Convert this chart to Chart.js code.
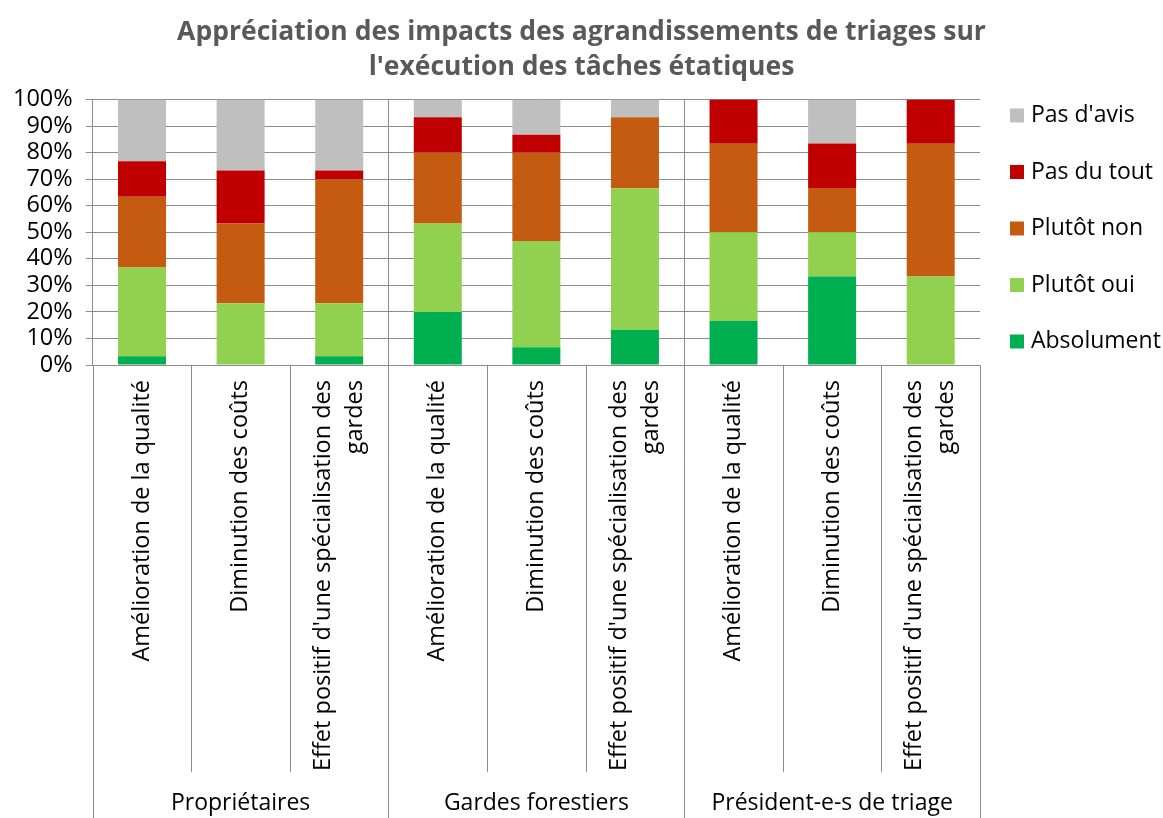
<!DOCTYPE html>
<html>
<head>
<meta charset="utf-8">
<script src="https://cdn.jsdelivr.net/npm/chart.js@4.4.1/dist/chart.umd.min.js"></script>
<style>
  html, body { margin: 0; padding: 0; background: #fff; }
  #wrap { width: 1163px; height: 818px; }
</style>
</head>
<body>
<div id="wrap"><canvas id="myChart" width="1163" height="818"></canvas></div>
<script>
// groupes et critères (axe x à deux niveaux)
const groupes = ['Propriétaires', 'Gardes forestiers', 'Président-e-s de triage'];
const criteres = ['Amélioration de la qualité', 'Diminution des coûts', ["Effet positif d'une spécialisation des", 'gardes']];

// valeurs en %, une par barre (3 critères x 3 groupes)
const absolument = [3.3, 0, 3.3, 20, 6.7, 13.3, 16.7, 33.3, 0];
const plutotOui = [33.4, 23.3, 20, 33.3, 40, 53.3, 33.3, 16.7, 33.3];
const plutotNon = [26.7, 30, 46.7, 26.7, 33.3, 26.7, 33.3, 16.7, 50];
const pasDuTout = [13.3, 20, 3.3, 13.3, 6.7, 0, 16.7, 16.7, 16.7];
const pasDavis = [23.3, 26.7, 26.7, 6.7, 13.3, 6.7, 0, 16.6, 0];

const yTicks = [0, 10, 20, 30, 40, 50, 60, 70, 80, 90, 100];

const labels = [];
groupes.forEach(g => criteres.forEach(c => labels.push(c)));

const police = "'Open Sans', sans-serif";
const gris = '#8c8c8c';

// axe x à deux niveaux + légende à droite
const decor = {
  id: 'decor',
  afterDraw(chart) {
    const ctx = chart.ctx;
    const x = chart.scales.x;
    const area = chart.chartArea;
    const demi = (x.getPixelForValue(1) - x.getPixelForValue(0)) / 2;
    const basLabels = area.bottom + 407;

    ctx.save();
    ctx.strokeStyle = gris;
    ctx.lineWidth = 1;
    for (let i = 0; i <= labels.length; i++) {
      const px = Math.round(x.getPixelForValue(i) - demi) + 0.5;
      const finGroupe = i % criteres.length === 0;
      const haut = (finGroupe && i > 0 && i < labels.length) ? area.top : area.bottom;
      ctx.beginPath();
      ctx.moveTo(px, haut);
      ctx.lineTo(px, finGroupe ? chart.height : basLabels);
      ctx.stroke();
    }

    // étiquettes des critères, verticales
    ctx.fillStyle = '#000';
    ctx.font = '23.5px ' + police;
    ctx.textAlign = 'right';
    ctx.textBaseline = 'middle';
    labels.forEach((lab, i) => {
      const lignes = Array.isArray(lab) ? lab : [lab];
      const cx = x.getPixelForValue(i);
      lignes.forEach((l, j) => {
        const dx = (j - (lignes.length - 1) / 2) * 32;
        ctx.save();
        ctx.translate(cx + dx, area.bottom + 15);
        ctx.rotate(-Math.PI / 2);
        ctx.fillText(l, 0, 0);
        ctx.restore();
      });
    });

    // étiquettes des groupes
    ctx.font = '23px ' + police;
    ctx.textAlign = 'center';
    groupes.forEach((g, k) => {
      const cx = x.getPixelForValue(k * criteres.length + 1);
      ctx.fillText(g, cx, area.bottom + 438);
    });

    // légende (ordre inversé)
    const items = chart.data.datasets.slice().reverse();
    ctx.textAlign = 'left';
    items.forEach((ds, i) => {
      const cy = area.top + 16 + i * 56.5;
      ctx.fillStyle = ds.backgroundColor;
      ctx.fillRect(area.right + 30, cy - 7, 14, 14);
      ctx.fillStyle = '#000';
      ctx.fillText(ds.label, area.right + 51, cy);
    });
    ctx.restore();
  }
};

const ctx = document.getElementById('myChart').getContext('2d');
const myChart = new Chart(ctx, {
  type: 'bar',
  data: {
    labels: labels,
    datasets: [
      { label: 'Absolument', data: absolument, backgroundColor: '#00B050' },
      { label: 'Plutôt oui', data: plutotOui, backgroundColor: '#92D050' },
      { label: 'Plutôt non', data: plutotNon, backgroundColor: '#C55A11' },
      { label: 'Pas du tout', data: pasDuTout, backgroundColor: '#C00000' },
      { label: "Pas d'avis", data: pasDavis, backgroundColor: '#BFBFBF' }
    ]
  },
  options: {
    responsive: false,
    animation: false,
    datasets: { bar: { barPercentage: 0.487, categoryPercentage: 1 } },
    layout: { padding: { left: 0, right: 0, top: 0, bottom: 453 } },
    plugins: {
      legend: { display: false },
      tooltip: { enabled: false },
      title: {
        display: true,
        text: ['Appréciation des impacts des agrandissements de triages sur', "l'exécution des tâches étatiques"],
        color: '#595959',
        font: { family: police, size: 26.5, weight: 'bold', lineHeight: 1.33 },
        padding: { top: 15, bottom: 14 }
      }
    },
    scales: {
      x: { stacked: true, display: false },
      y: {
        stacked: true,
        min: 0,
        max: 100,
        afterBuildTicks: (axis) => { axis.ticks = yTicks.map(v => ({ value: v })); },
        ticks: {
          color: '#000',
          padding: 13,
          autoSkip: false,
          font: { family: police, size: 23.5 },
          callback: (v) => v + '%'
        },
        grid: { color: gris, tickLength: 7 },
        border: { color: gris }
      },
      // réserve la place de la légende à droite
      legende: {
        type: 'linear',
        position: 'right',
        grid: { display: false },
        border: { display: false },
        ticks: { display: false },
        afterFit: (s) => { s.width = 183; }
      }
    }
  },
  plugins: [decor]
});
</script>
</body>
</html>
